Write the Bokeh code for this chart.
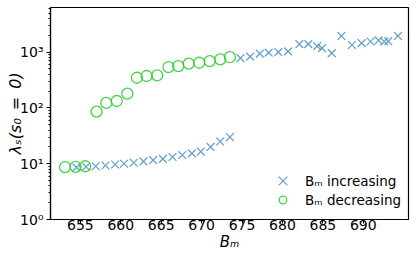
from bokeh.plotting import figure
from bokeh.models import FixedTicker, Range1d, Legend, LegendItem
from bokeh.embed import file_html
from bokeh.resources import INLINE

# B_m increasing (blue crosses)
inc_B = [654.5, 655.7, 656.9, 658.1, 659.3, 660.4, 661.6, 662.8, 664.0, 665.2,
         666.4, 667.6, 668.8, 669.9, 671.1, 672.3, 673.5,
         674.8, 676.0, 677.2, 678.3, 679.5, 680.7, 682.1, 683.2, 684.3, 684.9,
         686.1, 687.3, 688.6, 689.8, 690.9, 691.9, 692.6, 693.1, 694.3]
inc_lam = [8.6, 8.8, 9.0, 9.3, 9.7, 10.0, 10.4, 11.0, 11.6, 12.2,
           13.2, 14.3, 15.3, 16.5, 20.0, 25.0, 30.0,
           780, 830, 940, 980, 1000, 1030, 1390, 1390, 1280, 1180,
           960, 1950, 1340, 1450, 1550, 1620, 1550, 1570, 1950]

# B_m decreasing (green circles)
dec_B = [673.5, 672.3, 671.0, 669.7, 668.4, 667.1, 665.9, 664.5, 663.2, 662.0,
         660.8, 659.5, 658.2, 657.0, 655.6, 654.4, 653.1]
dec_lam = [810, 740, 690, 645, 620, 562, 540, 384, 373, 347,
           180, 133, 123, 86, 9.0, 8.8, 8.7]

x_ticks = [655, 660, 665, 670, 675, 680, 685, 690]
y_ticks = [1, 10, 100, 1000]
y_tick_labels = ["10⁰", "10¹", "10²", "10³"]
y_minor = [m * d for d in (1, 10, 100) for m in range(2, 10)] + [2000, 3000, 4000, 5000, 6000]
x_label = "Bₘ"
y_label = "λₛ(s₀\u2002=\u20020)"
legend_labels = ["Bₘ increasing", "Bₘ decreasing"]

FONT = "DejaVu Sans"

p = figure(width=412, height=256, y_axis_type="log",
           x_range=Range1d(651.3, 695.6), y_range=Range1d(1, 6300),
           output_backend="svg", toolbar_location=None,
           min_border_left=50, min_border_right=4, min_border_top=7,
           min_border_bottom=37)

p.grid.visible = False
p.outline_line_color = "black"
p.outline_line_width = 1.2
p.background_fill_color = "white"
p.border_fill_color = "white"

p.xaxis.ticker = FixedTicker(ticks=x_ticks, minor_ticks=[])
p.yaxis.ticker = FixedTicker(ticks=y_ticks, minor_ticks=y_minor)
p.yaxis.major_label_overrides = {t: l for t, l in zip(y_ticks, y_tick_labels)}

for ax in (p.xaxis[0], p.yaxis[0]):
    ax.axis_line_color = "black"
    ax.axis_line_width = 1.2
    ax.major_tick_line_color = "black"
    ax.minor_tick_line_color = "black"
    ax.major_tick_in = 0
    ax.major_tick_out = 4
    ax.minor_tick_in = 0
    ax.minor_tick_out = 2
    ax.major_label_text_font = FONT
    ax.major_label_text_font_size = "14px"
    ax.major_label_text_color = "black"
    ax.axis_label_text_font = FONT
    ax.axis_label_text_font_style = "italic"
    ax.axis_label_text_color = "black"

p.xaxis.axis_label = x_label
p.yaxis.axis_label = y_label
p.xaxis.axis_label_text_font_size = "15px"
p.yaxis.axis_label_text_font_size = "16px"
p.xaxis.major_label_standoff = -4
p.xaxis.axis_label_standoff = 0
p.yaxis.major_label_standoff = 3
p.yaxis.axis_label_standoff = -8

r_inc = p.scatter(inc_B, inc_lam, marker="x", size=11, line_color="#1f77b4",
                  line_alpha=0.7, line_width=1.2)
r_dec = p.scatter(dec_B, dec_lam, marker="circle", size=11, fill_color=None,
                  line_color="#32cd32", line_alpha=0.9, line_width=1.3)

common = dict(padding=0, margin=0, border_line_alpha=0, background_fill_alpha=0,
              label_text_font=FONT, label_text_font_size="13.5px",
              label_text_color="black", label_height=16)
leg1 = Legend(items=[LegendItem(label=legend_labels[0], renderers=[r_inc])],
              location=(217, 23), glyph_width=31, glyph_height=31,
              label_standoff=7, **common)
leg2 = Legend(items=[LegendItem(label=legend_labels[1], renderers=[r_dec])],
              location=(223, 10), glyph_width=19, glyph_height=19,
              label_standoff=13, **common)
p.add_layout(leg1)
p.add_layout(leg2)

open("out.html", "w").write(file_html(p, INLINE))
